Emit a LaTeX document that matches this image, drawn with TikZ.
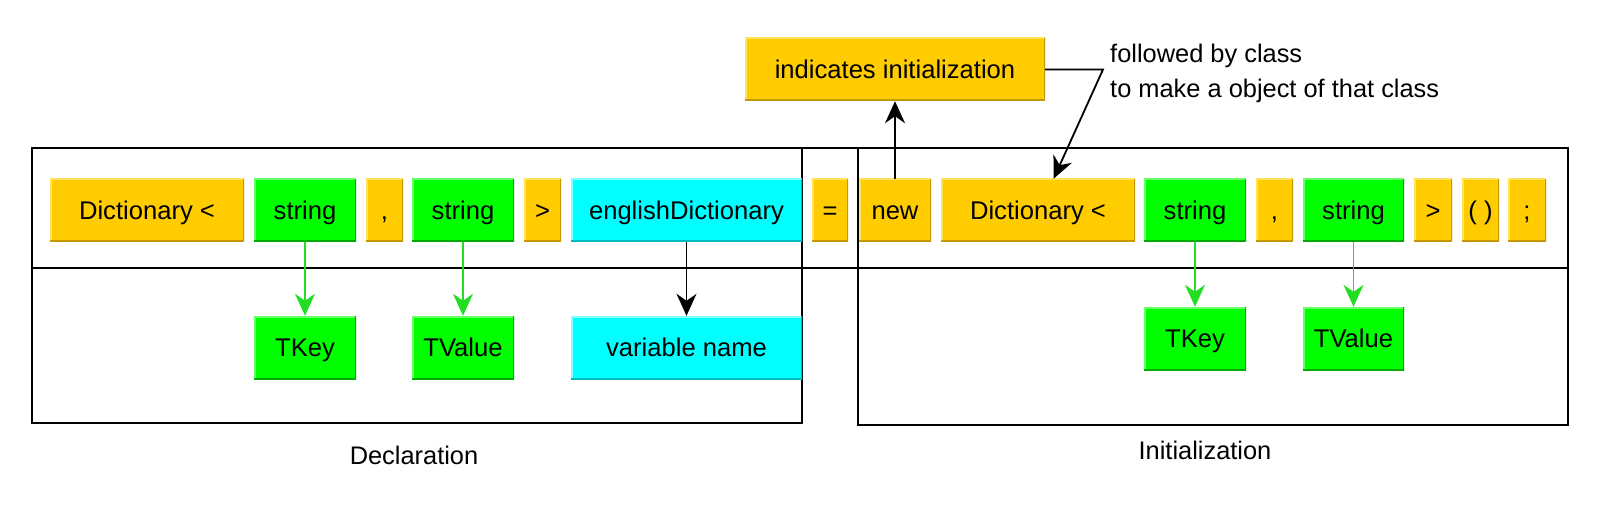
\documentclass[tikz,border=0pt]{standalone}
\usepackage{fontspec}
\setmainfont{Liberation Sans}
\usetikzlibrary{arrows.meta,calc}
\definecolor{yfill}{HTML}{FFCC00}
\definecolor{ylight}{HTML}{FFE35A}
\definecolor{ydark}{HTML}{C49A00}
\definecolor{gfill}{HTML}{00FF00}
\definecolor{glight}{HTML}{66FF66}
\definecolor{gdark}{HTML}{00AA00}
\definecolor{cfill}{HTML}{00FFFF}
\definecolor{clight}{HTML}{80FFFF}
\definecolor{cdark}{HTML}{00BBBB}
\definecolor{garrow}{HTML}{22DD22}
\tikzset{
  tok/.style={inner sep=0pt, minimum height=63pt, text height=18pt, text depth=0pt, font=\fontsize{25.6}{30}\selectfont},
  bevel/.style 2 args={path picture={
     \draw[line width=3pt,#1] (path picture bounding box.south west) -- (path picture bounding box.north west) -- (path picture bounding box.north east);
     \draw[line width=3pt,#2] (path picture bounding box.south west) -- (path picture bounding box.south east) -- (path picture bounding box.north east);}},
  ybox/.style={tok, fill=yfill, bevel={ylight}{ydark}},
  gbox/.style={tok, fill=gfill, bevel={glight}{gdark}},
  cbox/.style={tok, fill=cfill, bevel={clight}{cdark}},
  frameline/.style={line width=2pt, black},
  tip/.style={-{Stealth[length=22pt,width=20pt,inset=7pt]}},
  garr/.style={tip, line width=1.8pt, garrow},
  barr/.style={tip, line width=1.8pt, black},
  lbl/.style={font=\fontsize{25.4}{35}\selectfont, inner sep=0pt},
}
\begin{document}
\begin{tikzpicture}[x=1pt,y=-1pt]
\useasboundingbox (0,0) rectangle (1600,521);
% frames
\draw[frameline] (32,148) rectangle (802,423);
\draw[frameline] (858,148) rectangle (1568,425);
\draw[frameline] (32,148) -- (1568,148);
\draw[frameline] (32,268) -- (1568,268);
% row 1
\node[ybox, minimum width=194pt] (d1) at (147,210.5) {Dictionary <};
\node[gbox, minimum width=102pt] (s1) at (305,210.5) {string};
\node[ybox, minimum width=37pt] (c1) at (384.5,210.5) {,};
\node[gbox, minimum width=102pt] (s2) at (463,210.5) {string};
\node[ybox, minimum width=37pt] (g1) at (542.5,210.5) {>};
\node[cbox, minimum width=231pt] (ed) at (686.5,210.5) {englishDictionary};
\node[ybox, minimum width=36pt] (eq) at (830,210.5) {=};
\node[ybox, minimum width=72pt] (nw) at (895,210.5) {new};
\node[ybox, minimum width=194pt] (d2) at (1038,210.5) {Dictionary <};
\node[gbox, minimum width=102pt] (s3) at (1195,210.5) {string};
\node[ybox, minimum width=37pt] (c2) at (1274.5,210.5) {,};
\node[gbox, minimum width=101pt] (s4) at (1353.5,210.5) {string};
\node[ybox, minimum width=38pt] (g2) at (1433,210.5) {>};
\node[ybox, minimum width=37pt] (pr) at (1480.5,210.5) {( )};
\node[ybox, minimum width=38pt] (sc) at (1527,210.5) {;};
% row 2
\node[gbox, minimum width=102pt] (tk1) at (305,347.5) {TKey};
\node[gbox, minimum width=102pt] (tv1) at (463,347.5) {TValue};
\node[cbox, minimum width=231pt] (vn) at (686.5,347.5) {variable name};
\node[gbox, minimum width=102pt] (tk2) at (1195,338.5) {TKey};
\node[gbox, minimum width=101pt] (tv2) at (1353.5,338.5) {TValue};
% top
\node[ybox, minimum width=300pt] (ind) at (895,69.5) {indicates initialization};
\node[lbl, anchor=north west, align=left] (fol) at (1110,44) {followed by class\\to make a object of that class};
\coordinate (kink) at (1103,69.5);
% labels
\node[lbl, anchor=base] (decl) at (414,464) {Declaration};
\node[lbl, anchor=base] (init) at (1205,459) {Initialization};
% arrows
\draw[garr] (s1.south) -- (tk1.north);
\draw[garr] (s2.south) -- (tv1.north);
\draw[garr] (s3.south) -- (tk2.north);
\draw[garr] (s4.south) -- (tv2.north);
\draw[barr] (ed.south) -- (vn.north);
\draw[barr] (nw.north) -- (ind.south);
\draw[barr] (ind.east) -- (kink) -- ($(d2.north west)!0.58!(d2.north east)$);
\end{tikzpicture}
\end{document}
